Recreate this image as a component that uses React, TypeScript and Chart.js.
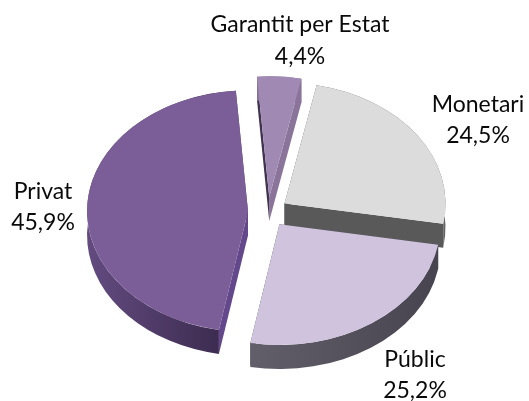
import React, { useEffect, useRef } from "react";
import { Chart, registerables } from "chart.js";

Chart.register(...registerables);

const categories = ["Monetari", "Públic", "Privat", "Garantit per Estat"];
const values = [24.5, 25.2, 45.9, 4.4];
const valueLabels = ["24,5%", "25,2%", "45,9%", "4,4%"];
const topColors = ["#dcdcdc", "#cfc3de", "#7b5e97", "#a08ab4"];
const wallLeftColors = ["#595959", "#625e6a", "#634b80", "#8a7499"];
const wallRightColors = ["#646464", "#47434f", "#38284a", "#8a7499"];
const cutWallColors = ["#595959", "#4f4a58", "#64488c", "#8a7499"];
const leftCutWallColors = ["#595959", "#4f4a58", "#64488c", "#40334f"];
const labelAnchors = [
  [478, 105, 136],
  [415, 360, 391],
  [43, 192, 223],
  [300, 25, 57],
];

const SQUASH = 0.75;
const DEPTH = 24;
const EXPLODE = 20;
const RADIUS = 161;
const CX = 268;
const CY = 212;

const explodePlugin = {
  id: "explode",
  afterDatasetsUpdate(chart: any) {
    chart.getDatasetMeta(0).data.forEach((arc: any) => {
      const mid = (arc.startAngle + arc.endAngle) / 2;
      arc.x = CX + Math.cos(mid) * EXPLODE;
      arc.y = CY + Math.sin(mid) * EXPLODE;
    });
  },
};

const toScreen = (arc: any, a: number, r: number) => ({
  x: arc.x + Math.cos(a) * r,
  y: CY + (arc.y - CY + Math.sin(a) * r) * SQUASH,
});

const quad = (ctx: any, p: any, q: any, color: string) => {
  ctx.fillStyle = color;
  ctx.beginPath();
  ctx.moveTo(p.x, p.y);
  ctx.lineTo(q.x, q.y);
  ctx.lineTo(q.x, q.y + DEPTH);
  ctx.lineTo(p.x, p.y + DEPTH);
  ctx.closePath();
  ctx.fill();
};

const wallPlugin = {
  id: "walls",
  beforeDatasetDraw(chart: any) {
    const ctx = chart.ctx;
    chart.getDatasetMeta(0).data.forEach((arc: any, i: number) => {
      const r = arc.outerRadius;
      const v = toScreen(arc, 0, 0);
      const s = toScreen(arc, arc.startAngle, r);
      const e = toScreen(arc, arc.endAngle, r);
      quad(ctx, v, e, cutWallColors[i]);
      quad(ctx, v, s, leftCutWallColors[i]);
      const ry = r * SQUASH;
      const x0 = Math.min(s.x, e.x, i === 2 ? v.x - r : s.x);
      const x1 = Math.max(s.x, e.x);
      const grad = ctx.createLinearGradient(x0, 0, x1, 0);
      grad.addColorStop(0, wallLeftColors[i]);
      grad.addColorStop(1, wallRightColors[i]);
      ctx.fillStyle = grad;
      ctx.beginPath();
      ctx.ellipse(v.x, v.y, r, ry, 0, arc.startAngle, arc.endAngle);
      ctx.ellipse(v.x, v.y + DEPTH, r, ry, 0, arc.endAngle, arc.startAngle, true);
      ctx.closePath();
      ctx.fill();
    });
    ctx.save();
    ctx.translate(0, CY);
    ctx.scale(1, SQUASH);
    ctx.translate(0, -CY);
  },
  afterDatasetDraw(chart: any) {
    chart.ctx.restore();
  },
};

const labelPlugin = {
  id: "sliceLabels",
  afterDraw(chart: any) {
    const ctx = chart.ctx;
    ctx.save();
    ctx.fillStyle = "#0a0a0a";
    ctx.font = '23px Lato, "Open Sans", sans-serif';
    ctx.textAlign = "center";
    ctx.textBaseline = "middle";
    labelAnchors.forEach(([x, y1, y2], i) => {
      ctx.fillText(categories[i], x, y1);
      ctx.fillText(valueLabels[i], x, y2);
    });
    ctx.restore();
  },
};

export default function App() {
  const ref = useRef<HTMLCanvasElement>(null);
  useEffect(() => {
    const chart = new Chart(ref.current as HTMLCanvasElement, {
      type: "pie",
      data: {
        labels: categories,
        datasets: [{ data: values, backgroundColor: topColors, borderWidth: 0 }],
      },
      options: {
        responsive: false,
        animation: false,
        radius: RADIUS,
        rotation: 11.5,
        plugins: { legend: { display: false }, tooltip: { enabled: false } },
      } as any,
      plugins: [explodePlugin, wallPlugin, labelPlugin],
    });
    return () => chart.destroy();
  }, []);
  return (
    <canvas
      ref={ref}
      width={529}
      height={401}
      style={{ position: "absolute", left: 0, top: 0, width: 529, height: 401 }}
    />
  );
}
